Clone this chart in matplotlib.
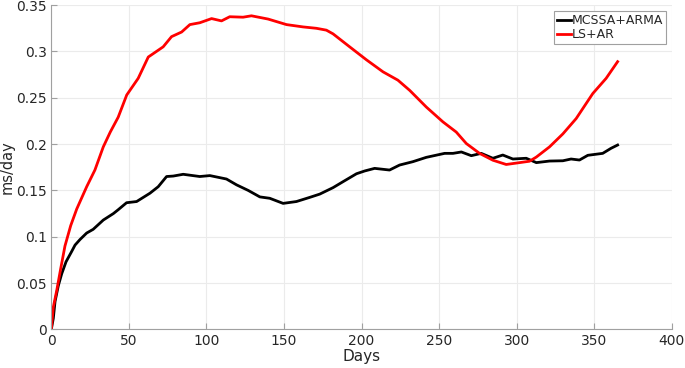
import matplotlib
matplotlib.use("Agg")
import matplotlib.pyplot as plt

# values
days_mcssa = [0, 1.3, 2.4, 4.5, 6.7, 9.5, 13.1, 15.3, 18.5, 22.8, 27, 33.5, 40, 43, 48.5, 55,
              63.6, 68.9, 74.3, 78.6, 85, 95.7, 102.2, 112.9, 119.4, 126.9, 134.4,
              140.8, 149.4, 158, 166.6, 173, 181.6, 188, 196.7, 202, 208.4, 218,
              224.5, 233, 241.7, 253.5, 258.9, 264.3, 270.7, 277.1, 284.6, 291,
              297.5, 306.1, 312.6, 321.1, 329.7, 335, 340.4, 345.8, 355.4, 360.8, 365]
mcssa_arma = [0, 0.012, 0.030, 0.047, 0.060, 0.073, 0.084, 0.091, 0.097, 0.104, 0.108, 0.118,
              0.125, 0.129, 0.1367, 0.138, 0.147, 0.154, 0.165, 0.1655, 0.1674, 0.165,
              0.166, 0.1623, 0.156, 0.150, 0.143, 0.1415, 0.136, 0.138, 0.1425, 0.146,
              0.153, 0.1594, 0.168, 0.171, 0.1738, 0.172, 0.1774, 0.181, 0.1857, 0.190,
              0.190, 0.1915, 0.1875, 0.190, 0.1847, 0.1882, 0.1839, 0.1847, 0.180,
              0.1817, 0.182, 0.1839, 0.1828, 0.1879, 0.190, 0.1955, 0.199]

days_ls = [0, 1.3, 3.5, 6.0, 8.8, 12.5, 16.4, 19.6, 22.8, 28.1, 33.5, 38, 43.1, 48.6, 56,
           62.5, 72.1, 77.5, 84, 89.3, 95.7, 103.3, 109.7, 115, 123.6, 129, 139.7,
           151.6, 162.3, 170.9, 177.3, 181.6, 192.3, 203.1, 213.8, 223.4, 231, 241.7,
           252.4, 261, 267.5, 276, 284.6, 293.2, 301.8, 308.2, 312.6, 321.1, 329.7,
           338.3, 349, 357.6, 365]
ls_ar = [0, 0.024, 0.042, 0.065, 0.090, 0.112, 0.130, 0.142, 0.154, 0.172, 0.197, 0.213,
         0.229, 0.253, 0.271, 0.294, 0.305, 0.316, 0.321, 0.329, 0.331, 0.3355, 0.333,
         0.3375, 0.337, 0.3385, 0.335, 0.329, 0.3265, 0.325, 0.323, 0.319, 0.305, 0.291,
         0.278, 0.269, 0.258, 0.240, 0.224, 0.213, 0.2006, 0.190, 0.1826, 0.178, 0.180,
         0.1815, 0.186, 0.197, 0.211, 0.2276, 0.2546, 0.271, 0.289]

x_ticks = [0, 50, 100, 150, 200, 250, 300, 350, 400]
y_ticks = [0, 0.05, 0.1, 0.15, 0.2, 0.25, 0.3, 0.35]
y_ticklabels = ['0', '0.05', '0.1', '0.15', '0.2', '0.25', '0.3', '0.35']

txt = '#262626'
plt.rcParams['font.family'] = 'DejaVu Sans'
plt.rcParams['font.size'] = 10

fig = plt.figure(figsize=(6.85, 3.68), dpi=100)
ax = fig.add_axes([0.0749, 0.105, 0.906, 0.881])

ax.plot(days_mcssa, mcssa_arma, color='black', lw=2, label='MCSSA+ARMA')
ax.plot(days_ls, ls_ar, color='#ff0000', lw=2, label='LS+AR')

ax.set_xlim(0, 400)
ax.set_ylim(0, 0.35)
ax.set_xticks(x_ticks)
ax.set_yticks(y_ticks)
ax.set_yticklabels(y_ticklabels)
ax.grid(True, color='#ebebeb', lw=0.8)
ax.set_axisbelow(True)

for s in ['top', 'right']:
    ax.spines[s].set_visible(False)
for s in ['left', 'bottom']:
    ax.spines[s].set_color('#a0a0a0')
    ax.spines[s].set_linewidth(0.8)
ax.tick_params(direction='in', length=4, color='#a0a0a0', labelcolor=txt,
               labelsize=10, pad=3)

ax.set_xlabel('Days', color=txt, fontsize=11, labelpad=1)
ax.set_ylabel('ms/day', color=txt, fontsize=10.5, labelpad=1)

leg = ax.legend(loc='upper right', fontsize=9, handlelength=1.1, handletextpad=0.1,
                borderpad=0.2, labelspacing=0.1, fancybox=False, framealpha=1,
                borderaxespad=0.5)
leg.get_frame().set_edgecolor('#a0a0a0')
leg.get_frame().set_linewidth(0.8)
for t in leg.get_texts():
    t.set_color(txt)

fig.savefig('out.png', dpi=100)
